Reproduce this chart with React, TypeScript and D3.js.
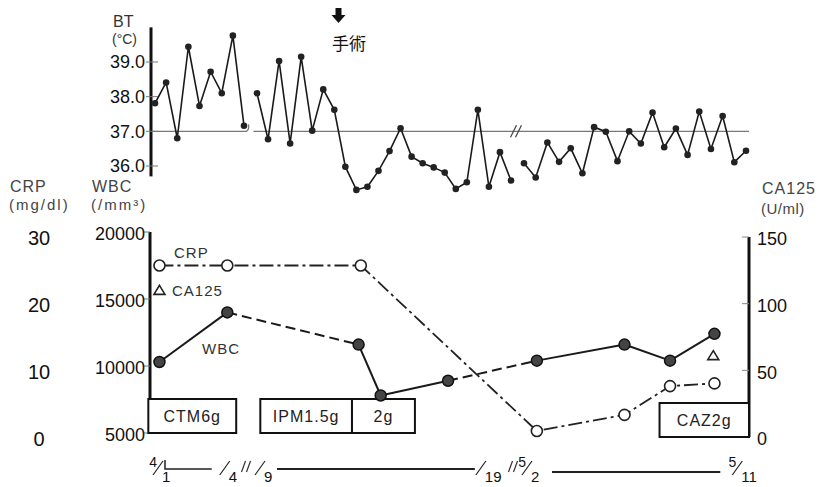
import React from "react";
import * as d3 from "d3";

// body temperature, twice a day readings, three periods
const btStart1 = 1;
const bt1 = [37.81, 38.41, 36.8, 39.44, 37.73, 38.72, 38.1, 39.76, 37.16];
const btStart2 = 9;
const bt2 = [
  38.1, 36.77, 39.03, 36.65, 39.15, 37.02, 38.21, 37.62, 35.98, 35.31, 35.4, 35.86,
  36.43, 37.09, 36.27, 36.08, 35.96, 35.81, 35.34, 35.53, 37.62, 35.4, 36.4, 35.58,
];
const btStart3 = 32;
const bt3 = [
  36.08, 35.67, 36.68, 36.12, 36.51, 35.79, 37.12, 36.99, 36.14, 37.0, 36.65, 37.54,
  36.54, 37.08, 36.32, 37.57, 36.49, 37.44, 36.11, 36.44,
];
const btTicks = [36, 37, 38, 39];

// lab values (day counted from 4/1 = 1)
const wbcDays = [1.2, 4.25, 13.6, 14.6, 17.65, 32.55, 36.3, 38.25, 40.15];
const wbc = [10300, 14000, 11600, 7800, 8900, 10400, 11600, 10400, 12400];
const wbcDashed = [false, true, false, false, true, false, false, false];
const crpDays = [1.2, 4.25, 13.7, 32.55, 36.3, 38.25, 40.15];
const crp = [25, 25, 25, 0.3, 2.7, 7.0, 7.4];
const ca125Days = [1.2, 40.1];
const ca125 = [110, 61];

const wbcTicks = [5000, 10000, 15000, 20000];
const crpTicks = [0, 10, 20, 30];
const caTicks = [0, 50, 100, 150];

const drugLabels = ["CTM6g", "IPM1.5g", "2g", "CAZ2g"];
const drugStart = [0.7, 9.15, 13.3, 37.8];
const drugEnd = [4.65, 13.3, 16.15, 41.6];
const drugAxis = ["left", "left", "left", "right"];

const dateDays = [1, 4, 9, 19, 32, 41];
const dateMonth = ["4", "", "", "", "5", "5"];
const dateDay = ["1", "4", "9", "19", "2", "11"];

const sans = "'Liberation Sans', Arial, sans-serif";

export default function App() {
  const x = d3.scaleLinear().domain([1, 5, 9, 20.5, 32, 41.5]).range([155, 244, 257, 511, 524, 746]);
  const yBT = d3.scaleLinear().domain([36, 39]).range([166, 62]);
  const yWbc = d3.scaleLinear().domain([5000, 20000]).range([433, 232]);
  const yCrp = d3.scaleLinear().domain([0, 30]).range([433, 232]);
  const yCa = d3.scaleLinear().domain([0, 150]).range([437, 237]);

  const leftX = 150;
  const rightX = 749;

  const btSegs = [
    { start: btStart1, vals: bt1 },
    { start: btStart2, vals: bt2 },
    { start: btStart3, vals: bt3 },
  ].map((s) => s.vals.map((v, i) => [s.start + i * 0.5, v] as [number, number]));

  const btLine = d3
    .line<[number, number]>()
    .x((d) => x(d[0]))
    .y((d) => yBT(d[1]));

  const y37 = yBT(37);
  const brk1 = (x(5) + x(9)) / 2;
  const brk2 = (x(20.5) + x(32)) / 2;

  const wbcPts = wbcDays.map((d, i) => [x(d), yWbc(wbc[i])]);
  const crpPts = crpDays.map((d, i) => [x(d), yCrp(crp[i])]);
  const crpLine = d3.line()(crpPts as [number, number][]) || "";

  const boxH = 34;

  return (
    <svg width={826} height={487} style={{ position: "absolute", left: 0, top: 0, background: "#fff" }}>
      {/* ---------- BT panel ---------- */}
      <text x={113} y={27} fontFamily={sans} fontSize={16} fill="#333">BT</text>
      <text x={112} y={44} fontFamily={sans} fontSize={14} fill="#333">(°C)</text>
      <line x1={leftX + 1} x2={leftX + 1} y1={yBT(40)} y2={yBT(35.7)} stroke="#111" strokeWidth={3} />
      {btTicks.map((t) => (
        <g key={t}>
          <line x1={leftX - 4} x2={leftX + 8} y1={yBT(t)} y2={yBT(t)} stroke="#777" strokeWidth={1} />
          <text x={145} y={yBT(t)} dy="0.36em" textAnchor="end" fontFamily={sans} fontSize={18} fill="#111">
            {t.toFixed(1)}
          </text>
        </g>
      ))}
      {/* 37 reference line with breaks */}
      <path d={`M${leftX + 2},${y37}H${brk1 - 4}q3,-2 2,-7`} fill="none" stroke="#777" strokeWidth={1.3} />
      <line x1={brk1 + 3} x2={rightX} y1={y37} y2={y37} stroke="#777" strokeWidth={1.3} />
      <line x1={brk2 - 7} x2={brk2 - 1} y1={y37 + 6} y2={y37 - 6} stroke="#444" strokeWidth={1.3} />
      <line x1={brk2 - 2} x2={brk2 + 4} y1={y37 + 6} y2={y37 - 6} stroke="#444" strokeWidth={1.3} />
      {btSegs.map((seg, si) => (
        <g key={si}>
          <path d={btLine(seg) || ""} fill="none" stroke="#1a1a1a" strokeWidth={1.6} />
          {seg.map((d, i) => (
            <circle key={i} cx={x(d[0])} cy={yBT(d[1])} r={3.3} fill="#222" />
          ))}
        </g>
      ))}
      {/* surgery marker */}
      <path d="M335.5,8H341.5V15H345.5L338.5,23L331.5,15H335.5Z" fill="#111" />
      <text x={349} y={50} textAnchor="middle" fontFamily="'Noto Sans CJK JP', sans-serif" fontSize={17} fill="#111">手術</text>

      {/* ---------- lab panel ---------- */}
      <text x={10} y={192} fontFamily={sans} fontSize={16} fill="#444" letterSpacing={1}>CRP</text>
      <text x={9} y={210} fontFamily={sans} fontSize={15} fill="#444" letterSpacing={2}>(mg/dl)</text>
      <text x={92} y={192} fontFamily={sans} fontSize={16} fill="#444" letterSpacing={1}>WBC</text>
      <text x={91} y={210} fontFamily={sans} fontSize={15} fill="#444" letterSpacing={2}>(/mm³)</text>
      <text x={762} y={194} fontFamily={sans} fontSize={16} fill="#444" letterSpacing={1}>CA125</text>
      <text x={761} y={214} fontFamily={sans} fontSize={15} fill="#444" letterSpacing={0.5}>(U/ml)</text>

      {/* left axis */}
      <line x1={leftX} x2={leftX} y1={yWbc(20000)} y2={yWbc(5000)} stroke="#111" strokeWidth={3} />
      {wbcTicks.map((t) => (
        <g key={t}>
          <line x1={leftX - 6} x2={leftX} y1={yWbc(t)} y2={yWbc(t)} stroke="#777" strokeWidth={1} />
          <text x={145} y={yWbc(t) + 2} dy="0.36em" textAnchor="end" fontFamily={sans} fontSize={18} fill="#111">
            {t}
          </text>
        </g>
      ))}
      {crpTicks.map((t) => (
        <text key={t} x={39} y={yCrp(t) + 6} dy="0.36em" textAnchor="middle" fontFamily={sans} fontSize={20} fill="#111">
          {t}
        </text>
      ))}
      {/* right axis */}
      <line x1={rightX} x2={rightX} y1={yCa(150)} y2={yCa(0)} stroke="#111" strokeWidth={3} />
      {caTicks.map((t) => (
        <g key={t}>
          <line x1={rightX - 7} x2={rightX} y1={yCa(t)} y2={yCa(t)} stroke="#888" strokeWidth={1} />
          <text x={757} y={yCa(t) + 2} dy="0.36em" fontFamily={sans} fontSize={18} fill="#111">
            {t}
          </text>
        </g>
      ))}
      {/* bottom axis line */}
      <line x1={leftX} x2={x(4.65)} y1={yWbc(5000)} y2={yWbc(5000)} stroke="#111" strokeWidth={2} />

      {/* drug boxes */}
      {drugLabels.map((lab, i) => {
        const y0 = drugAxis[i] === "left" ? yWbc(5000) : yCa(0);
        const x0 = x(drugStart[i]);
        const x1 = drugAxis[i] === "right" ? rightX : x(drugEnd[i]);
        return (
          <g key={lab}>
            <rect x={x0} y={y0 - boxH} width={x1 - x0} height={boxH} fill="#fff" stroke="#111" strokeWidth={2} />
            <text x={(x0 + x1) / 2} y={y0 - boxH / 2} dy="0.36em" textAnchor="middle" fontFamily={sans} fontSize={16} fill="#222" letterSpacing={1}>
              {lab}
            </text>
          </g>
        );
      })}

      {/* CRP dash-dot */}
      <path d={crpLine} fill="none" stroke="#222" strokeWidth={1.8} strokeDasharray="14 4 3 4" />
      {/* WBC */}
      {wbcDashed.map((dash, i) => (
        <line
          key={i}
          x1={wbcPts[i][0]}
          y1={wbcPts[i][1]}
          x2={wbcPts[i + 1][0]}
          y2={wbcPts[i + 1][1]}
          stroke="#1a1a1a"
          strokeWidth={2}
          strokeDasharray={dash ? "10 5" : undefined}
        />
      ))}
      {wbcPts.map((p, i) => (
        <circle key={i} cx={p[0]} cy={p[1]} r={5.5} fill="#444" stroke="#111" strokeWidth={1.5} />
      ))}
      {crpPts.map((p, i) => (
        <circle key={i} cx={p[0]} cy={p[1]} r={5.5} fill="#fff" stroke="#222" strokeWidth={1.6} />
      ))}
      {ca125Days.map((d, i) => {
        const cx = x(d);
        const cy = yCa(ca125[i]);
        return <path key={i} d={`M${cx},${cy - 5}L${cx + 5.5},${cy + 4}L${cx - 5.5},${cy + 4}Z`} fill="#fff" stroke="#222" strokeWidth={1.6} />;
      })}
      <text x={174} y={258} fontFamily={sans} fontSize={15} fill="#333" letterSpacing={1}>CRP</text>
      <text x={172} y={296} fontFamily={sans} fontSize={15} fill="#333" letterSpacing={1}>CA125</text>
      <text x={202} y={354} fontFamily={sans} fontSize={15} fill="#333" letterSpacing={1}>WBC</text>

      {/* date axis */}
      {dateDays.map((d, i) => {
        const sx = x(d) + 3;
        return (
          <g key={i}>
            <line x1={sx - 5} y1={475} x2={sx + 5} y2={461} stroke="#222" strokeWidth={1.2} />
            {dateMonth[i] && (
              <text x={sx - 1} y={467} textAnchor="end" fontFamily={sans} fontSize={14} fill="#111">
                {dateMonth[i]}
              </text>
            )}
            <text x={sx + 4} y={482} fontFamily={sans} fontSize={15} fill="#111">
              {dateDay[i]}
            </text>
          </g>
        );
      })}
      <path d={`M${x(1) + 10},460V469H${x(4) - 10}`} fill="none" stroke="#222" strokeWidth={1.5} />
      <line x1={x(9) + 20} x2={x(19) - 3} y1={469} y2={469} stroke="#222" strokeWidth={2} />
      <line x1={x(32) + 28} x2={x(41) - 14} y1={472} y2={472} stroke="#222" strokeWidth={2} />
      {[brk1 - 6, brk2 - 6].map((bx, i) => (
        <g key={i} stroke="#333" strokeWidth={1.2}>
          <line x1={bx - 3} y1={472} x2={bx + 1} y2={461} />
          <line x1={bx + 2} y1={472} x2={bx + 6} y2={461} />
        </g>
      ))}
    </svg>
  );
}
